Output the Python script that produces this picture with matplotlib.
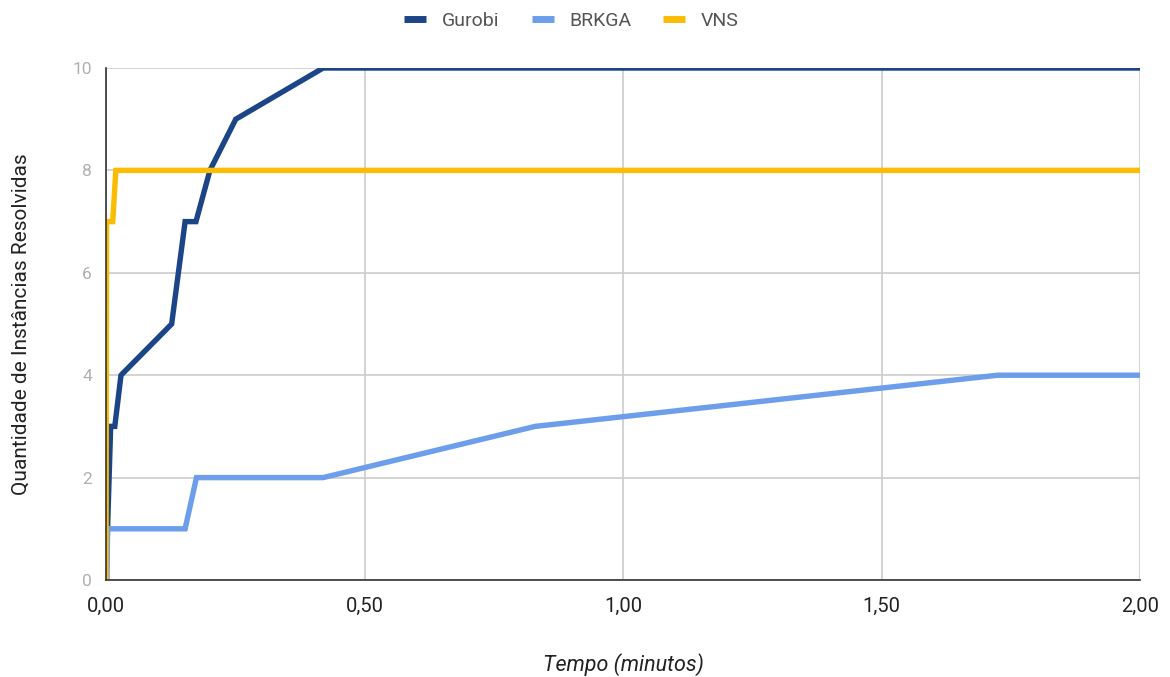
import matplotlib
matplotlib.use('Agg')
import matplotlib.pyplot as plt
from matplotlib.ticker import FuncFormatter, MultipleLocator

# tempo (minutos) x instancias resolvidas
gurobi_t = [0.0, 0.009, 0.017, 0.029, 0.127, 0.153, 0.174, 0.201, 0.251, 0.42, 2.0]
gurobi_y = [0, 3, 3, 4, 5, 7, 7, 8, 9, 10, 10]

brkga_t = [0.002, 0.003, 0.153, 0.175, 0.42, 0.83, 1.725, 2.0]
brkga_y = [0, 1, 1, 2, 2, 3, 4, 4]

vns_t = [0.0, 0.001, 0.013, 0.019, 2.0]
vns_y = [0, 7, 7, 8, 8]

plt.rcParams['font.family'] = ['Roboto', 'DejaVu Sans']

fig = plt.figure(figsize=(11.7, 6.77), dpi=100)
ax = fig.add_axes([106 / 1170, 1 - 580 / 677, (1140 - 106) / 1170, (580 - 68) / 677])

lw = 3.9
ax.plot(gurobi_t, gurobi_y, color='#1c4587', lw=lw, label='Gurobi', solid_joinstyle='miter')
ax.plot(brkga_t, brkga_y, color='#6d9eeb', lw=lw, label='BRKGA', solid_joinstyle='miter')
ax.plot(vns_t, vns_y, color='#fbbc04', lw=lw, label='VNS', solid_joinstyle='miter')

ax.set_xlim(0, 2.0)
ax.set_ylim(0, 10)
ax.xaxis.set_major_locator(MultipleLocator(0.5))
ax.yaxis.set_major_locator(MultipleLocator(2))
ax.xaxis.set_major_formatter(FuncFormatter(lambda v, p: f'{v:.2f}'.replace('.', ',')))
ax.yaxis.set_major_formatter(FuncFormatter(lambda v, p: f'{v:.0f}'))

ax.grid(True, color='#cccccc', lw=1.2)
ax.set_axisbelow(True)
for s in ['top', 'right']:
    ax.spines[s].set_visible(False)
for s in ['left', 'bottom']:
    ax.spines[s].set_color('#333333')
    ax.spines[s].set_linewidth(1.2)
ax.tick_params(length=0)
ax.tick_params(axis='x', labelsize=14.5, colors='#222222', pad=12)
ax.tick_params(axis='y', labelsize=12.5, labelcolor='#b0b0b0', pad=10)

ax.set_xlabel('Tempo (minutos)', fontsize=15.5, style='italic', color='#222222', labelpad=27)
ax.set_ylabel('Quantidade de Instâncias Resolvidas', fontsize=15, color='#222222', labelpad=30)

leg = fig.legend(loc='upper center', bbox_to_anchor=(0.4885, 1.008), ncol=3, frameon=False,
                 fontsize=14, handlelength=1.13, handletextpad=0.8, columnspacing=1.65)
for t in leg.get_texts():
    t.set_color('#555555')
for h in leg.get_lines():
    h.set_linewidth(5)
    h.set_solid_capstyle('butt')

fig.savefig('out.png', dpi=100)
